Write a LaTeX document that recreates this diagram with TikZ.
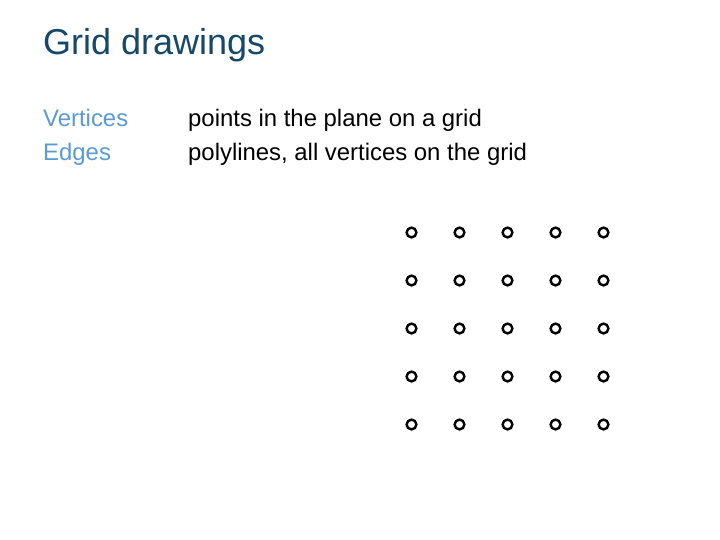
\documentclass[tikz,border=0pt]{standalone}
\usepackage{fontspec}
\setmainfont{Liberation Sans}
\definecolor{titlecol}{RGB}{23,72,104}
\definecolor{termcol}{RGB}{91,155,213}
\begin{document}
\begin{tikzpicture}[x=1pt,y=-1pt,
  titlestyle/.style={anchor=base west,inner sep=0pt,text=titlecol,font=\fontsize{36}{43}\selectfont},
  termstyle/.style={anchor=base west,inner sep=0pt,text=termcol,font=\fontsize{23.9}{28}\selectfont},
  descstyle/.style={anchor=base west,inner sep=0pt,text=black,font=\fontsize{23.9}{28}\selectfont},
  gridpt/.style={circle,draw=black,line width=2.4pt,minimum size=9.8pt,inner sep=0pt}]
\useasboundingbox[fill=white] (0,0) rectangle (720,540);
\node[titlestyle] (title) at (43,55) {Grid drawings};
\node[termstyle] (tv) at (43,127) {Vertices};
\node[termstyle] (te) at (43,161) {Edges};
\node[descstyle] (dv) at (188,127) {points in the plane on a grid};
\node[descstyle] (de) at (188,161) {polylines, all vertices on the grid};
\foreach \i in {0,...,4}{
  \foreach \j in {0,...,4}{
    \node[gridpt] (p\i\j) at (411.5+48*\i,232.5+48*\j) {};
  }
}
\end{tikzpicture}
\end{document}
